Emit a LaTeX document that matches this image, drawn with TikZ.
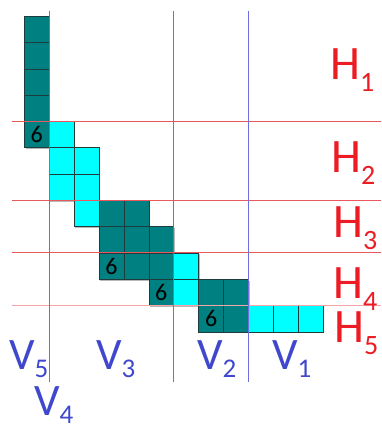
\documentclass[tikz,border=0pt]{standalone}
\usepackage{fontspec}
\setmainfont{Carlito}
\definecolor{tealc}{HTML}{008080}
\definecolor{cyanc}{HTML}{00FFFF}
\definecolor{edgec}{HTML}{1E3C3C}
\definecolor{redt}{HTML}{ED1C24}
\definecolor{bluet}{HTML}{3F48CC}
\definecolor{redl}{HTML}{E8585C}
\definecolor{pinkl}{HTML}{F4A4A8}
\definecolor{bluel}{HTML}{6E6EE0}
\newcommand\hsub[2]{#1\raisebox{-12pt}{\fontsize{28}{28}\selectfont #2}}
\newcommand\vsub[2]{#1\raisebox{-8pt}{\fontsize{27}{27}\selectfont #2}}
\begin{document}
\begin{tikzpicture}[x=1pt,y=-1pt,
  cell/.style={draw=edgec,line width=0.7pt,minimum width=24.9pt,minimum height=26.3pt,inner sep=0pt,anchor=north west,font=\fontsize{24}{24}\selectfont},
  darkcell/.style={cell,fill=tealc},
  lightcell/.style={cell,fill=cyanc},
  hline/.style={draw=redl,line width=0.8pt},
  vline/.style={draw=bluel,line width=0.8pt},
  hlab/.style={text=redt,inner sep=0pt,anchor=base west,font=\fontsize{48}{48}\selectfont},
  vlab/.style={text=bluet,inner sep=0pt,anchor=base west,font=\fontsize{45}{45}\selectfont}]
\useasboundingbox (0,0) rectangle (381,430);
% shadows
\foreach \c/\r in {0/0,0/1,0/2,0/3,0/4,1/4,1/5,2/5,1/6,2/6,2/7,3/7,4/7,3/8,4/8,5/8,3/9,4/9,5/9,6/9,5/10,6/10,7/10,8/10,7/11,8/11,9/11,10/11,11/11}
  \fill[black!28] ({24+24.9*\c+1.5},{16+26.3*\r+1.5}) rectangle +(24.9,26.3);
% dark cells
\foreach \c/\r/\t in {0/0/,0/1/,0/2/,0/3/,0/4/6,3/7/,4/7/,3/8/,4/8/,5/8/,3/9/6,4/9/,5/9/,5/10/6,7/10/,8/10/,7/11/6,8/11/}
  \node[darkcell] (d\c-\r) at ({24+24.9*\c},{16+26.3*\r}) {\t};
% light cells
\foreach \c/\r in {1/4,1/5,2/5,1/6,2/6,2/7,6/9,6/10,9/11,10/11,11/11}
  \node[lightcell] (l\c-\r) at ({24+24.9*\c},{16+26.3*\r}) {};
% horizontal lines
\coordinate (h1w) at (12,121.2); \coordinate (h1e) at (381,121.2);
\coordinate (h2w) at (12,200.1); \coordinate (h2e) at (381,200.1);
\coordinate (h3w) at (12,252.7); \coordinate (h3e) at (381,252.7);
\coordinate (h4w) at (12,305.5); \coordinate (h4e) at (381,305.5);
\draw[hline] (h1w) -- (h1e);
\draw[hline] (h2w) -- (h2e);
\draw[hline] (h3w) -- (h3e);
\draw[hline,draw=pinkl] (h4w) -- (h4e);
% vertical lines
\coordinate (v1n) at (48.9,11); \coordinate (v1s) at (48.9,382);
\coordinate (v2n) at (173.4,11); \coordinate (v2s) at (173.4,382);
\coordinate (v3n) at (248.1,11); \coordinate (v3s) at (248.1,382);
\draw[vline] (v1n) -- (v1s);
\draw[vline] (v2n) -- (v2s);
\draw[vline] (v3n) -- (v3s);
% H labels
\node[hlab] (H1) at (330,80) {\hsub{H}{1}};
\node[hlab] (H2) at (331,173) {\hsub{H}{2}};
\node[hlab] (H3) at (333,237) {\hsub{H}{3}};
\node[hlab] (H4) at (333,298) {\hsub{H}{4}};
\node[hlab] (H5) at (334,342) {\hsub{H}{5}};
% V labels
\node[vlab] (V5) at (9,369) {\vsub{V}{5}};
\node[vlab] (V3) at (96,369) {\vsub{V}{3}};
\node[vlab] (V2) at (197,369) {\vsub{V}{2}};
\node[vlab] (V1) at (272,369) {\vsub{V}{1}};
\node[vlab] (V4) at (34,415) {\vsub{V}{4}};
\end{tikzpicture}
\end{document}
